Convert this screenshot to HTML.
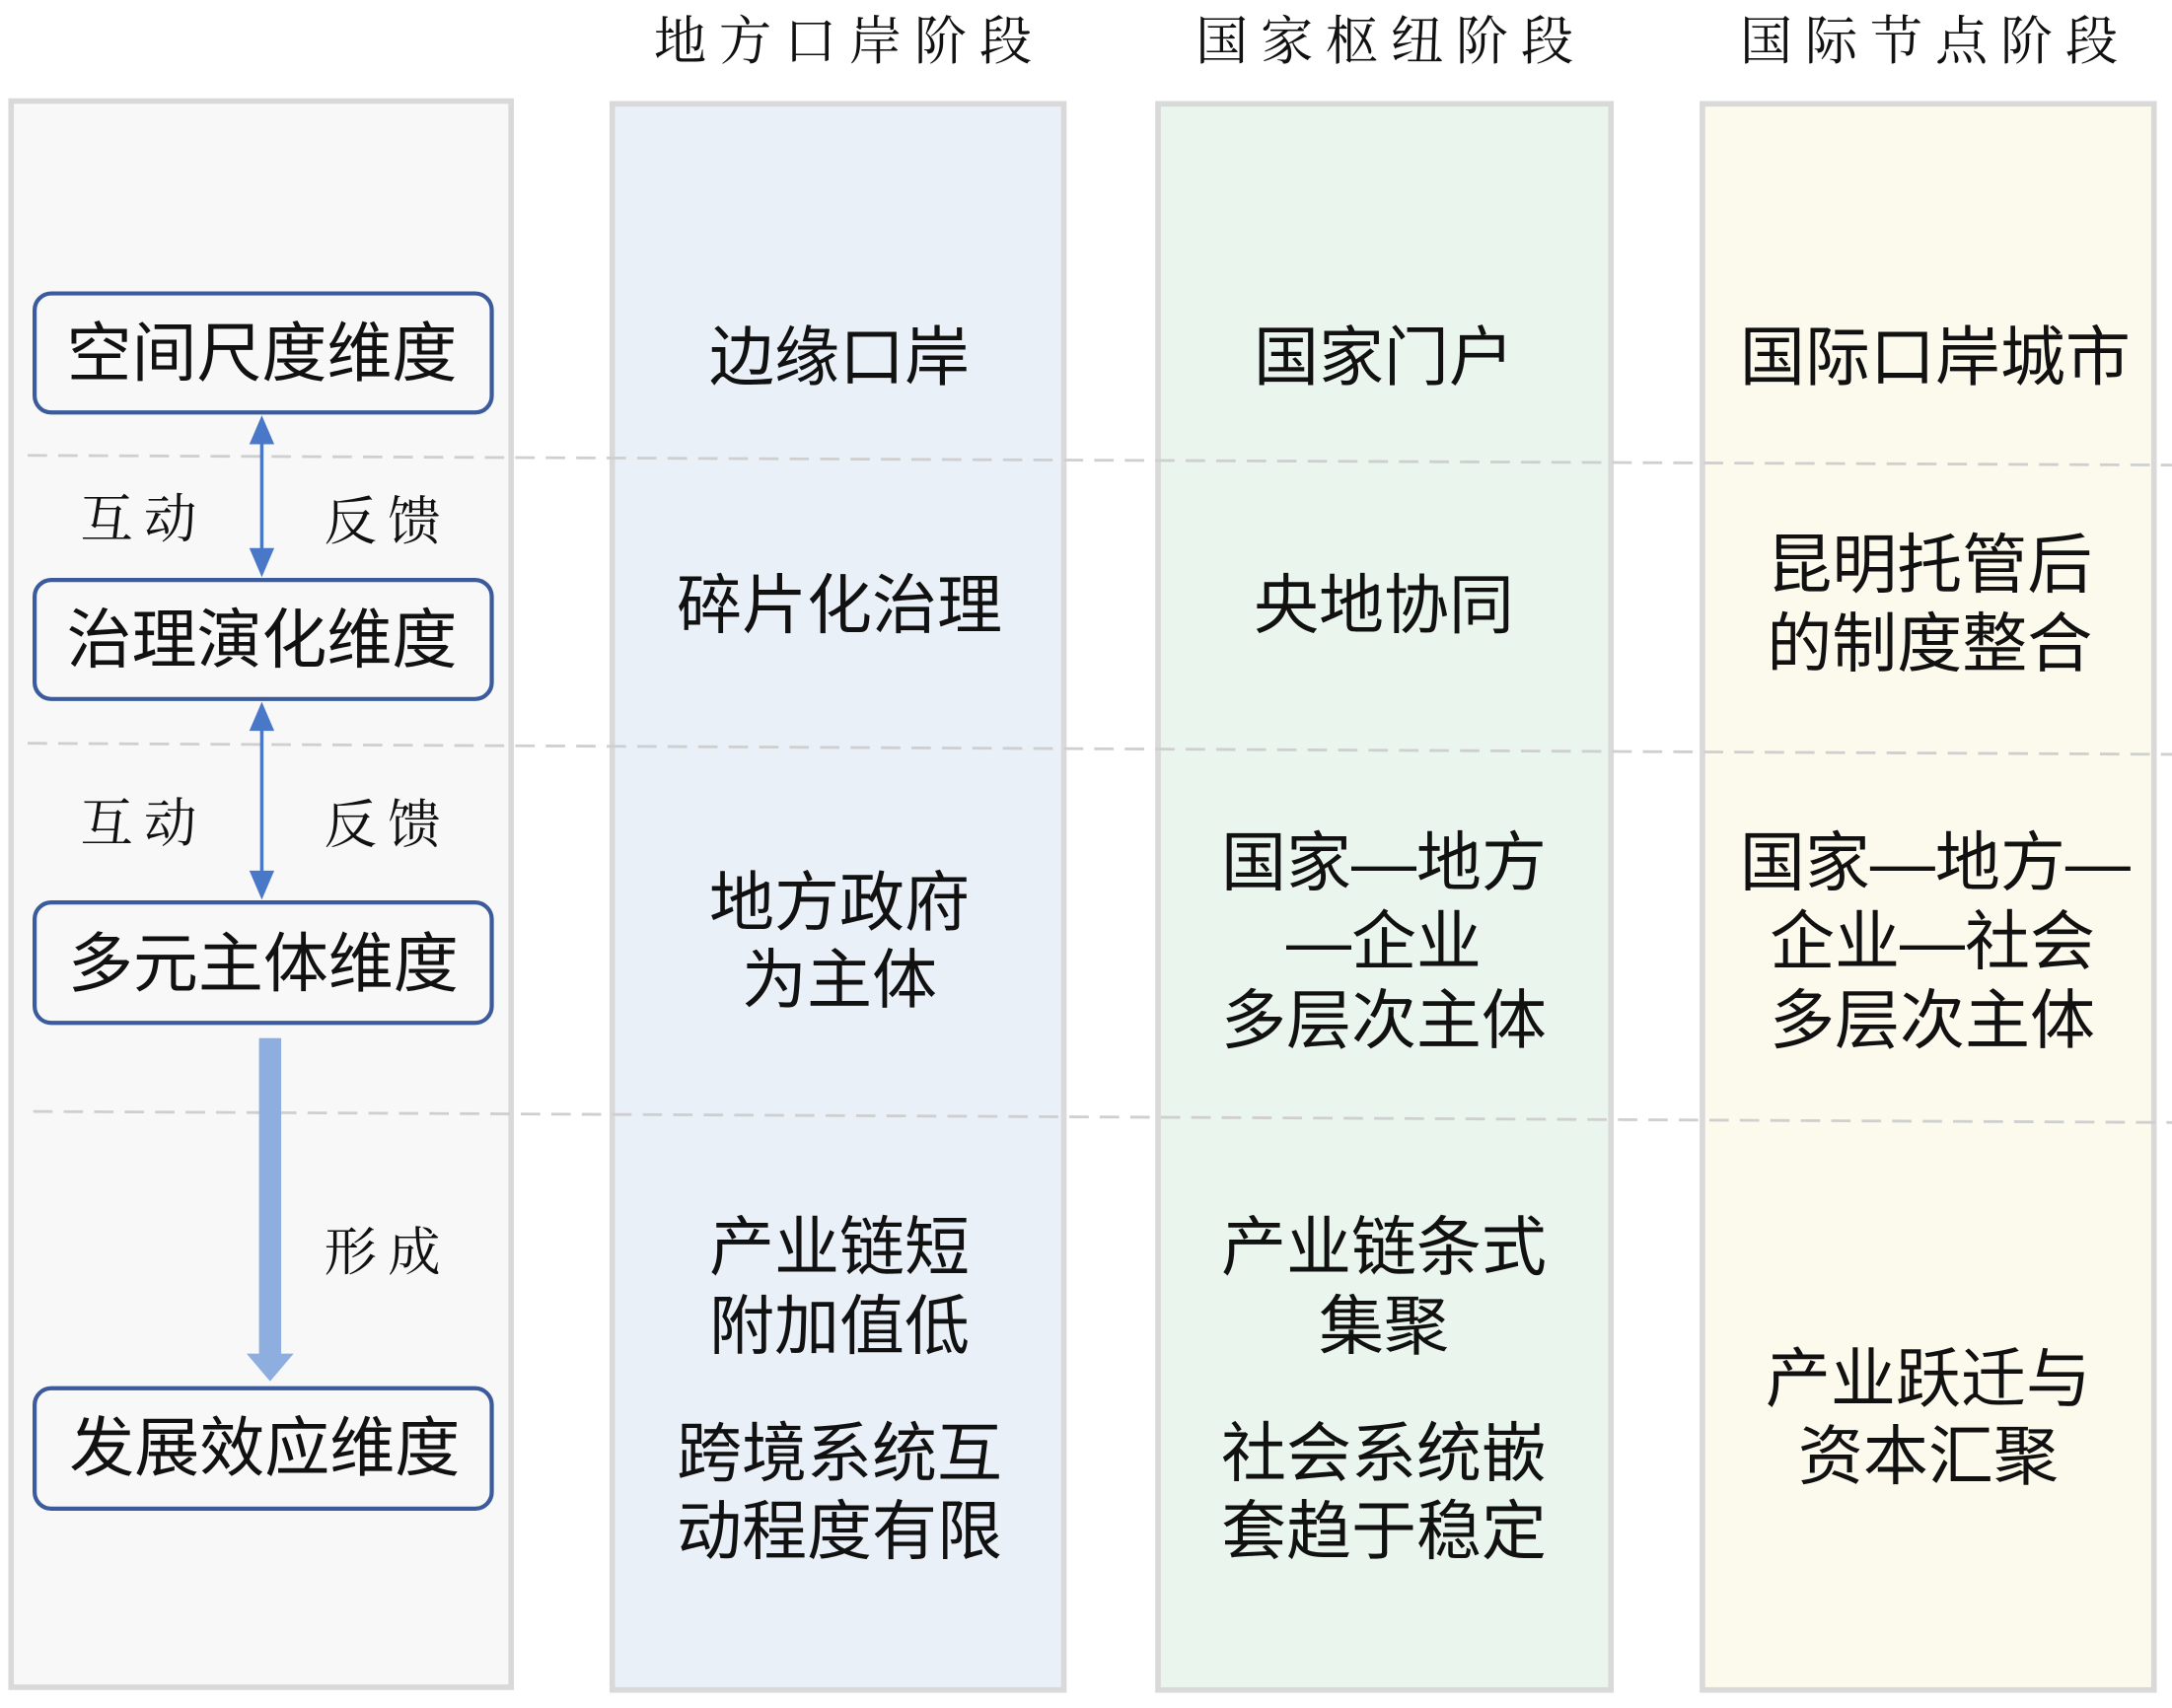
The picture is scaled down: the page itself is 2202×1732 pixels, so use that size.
<!DOCTYPE html>
<html><head><meta charset="utf-8"><style>
html,body{margin:0;padding:0;background:#fff;}
svg{display:block;}
.s{font-family:"Liberation Sans","Noto Sans CJK SC",sans-serif;font-size:47px;fill:#111;text-anchor:middle;dominant-baseline:central;}
.t{font-family:"Liberation Serif","Noto Serif CJK SC",serif;font-size:38px;fill:#111;text-anchor:middle;dominant-baseline:central;letter-spacing:9px;}
.l{font-family:"Liberation Serif","Noto Serif CJK SC",serif;font-size:38px;fill:#111;text-anchor:middle;dominant-baseline:central;letter-spacing:8px;}
</style></head><body>
<svg width="2202" height="1732" viewBox="0 0 1568 1234" preserveAspectRatio="none" xmlns="http://www.w3.org/2000/svg">
<rect x="8" y="73" width="361" height="1146" fill="#f8f8f8" stroke="#d9d9d9" stroke-width="4"/>
<rect x="442" y="75" width="326" height="1146" fill="#eaf0f8" stroke="#d9d9d9" stroke-width="4"/>
<rect x="836" y="75" width="327" height="1146" fill="#e9f5ed" stroke="#d9d9d9" stroke-width="4"/>
<rect x="1229" y="75" width="326" height="1146" fill="#fbfaec" stroke="#d9d9d9" stroke-width="4"/>
<text class="t" x="613" y="30">地方口岸阶段</text>
<text class="t" x="1004" y="30">国家枢纽阶段</text>
<text class="t" x="1397" y="30">国际节点阶段</text>
<g stroke="#cfcfcf" stroke-width="2" stroke-dasharray="14,8" fill="none">
<line x1="20" y1="329" x2="1568" y2="336"/>
<line x1="20" y1="537" x2="1568" y2="545"/>
<line x1="24" y1="803" x2="1568" y2="811"/>
</g>
<g fill="#f8f8f8" stroke="#3b5b9c" stroke-width="3">
<rect x="25" y="212" width="330" height="86" rx="12"/>
<rect x="25" y="419" width="330" height="86" rx="12"/>
<rect x="25" y="652" width="330" height="87" rx="12"/>
<rect x="25" y="1003" width="330" height="87" rx="12"/>
</g>
<text class="s" x="189" y="255">空间尺度维度</text>
<text class="s" x="189" y="462">治理演化维度</text>
<text class="s" x="190" y="696">多元主体维度</text>
<text class="s" x="191" y="1046">发展效应维度</text>
<g stroke="#4a78c8" stroke-width="2.5">
<line x1="189" y1="318" x2="189" y2="398"/>
<line x1="189" y1="526" x2="189" y2="630"/>
</g>
<g fill="#4a78c8">
<path d="M189,300 L180,321 L198,321 z"/>
<path d="M189,417 L180,396 L198,396 z"/>
<path d="M189,507 L180,528 L198,528 z"/>
<path d="M189,650 L180,629 L198,629 z"/>
</g>
<rect x="187" y="750" width="16" height="230" fill="#8eaee0"/>
<path d="M178,978 L212,978 L195,998 z" fill="#8eaee0"/>
<text class="l" x="104" y="375">互动</text>
<text class="l" x="280" y="377">反馈</text>
<text class="l" x="104" y="595">互动</text>
<text class="l" x="280" y="596">反馈</text>
<text class="l" x="280" y="905">形成</text>
<text class="s" x="606" y="258">边缘口岸</text>
<text class="s" x="606" y="437">碎片化治理</text>
<text class="s" x="606" y="652">地方政府</text>
<text class="s" x="606" y="708">为主体</text>
<text class="s" x="606" y="901">产业链短</text>
<text class="s" x="606" y="958">附加值低</text>
<text class="s" x="606" y="1050">跨境系统互</text>
<text class="s" x="606" y="1106">动程度有限</text>
<text class="s" x="999" y="258">国家门户</text>
<text class="s" x="999" y="437">央地协同</text>
<text class="s" x="999" y="623">国家—地方</text>
<text class="s" x="999" y="680">—企业</text>
<text class="s" x="999" y="737">多层次主体</text>
<text class="s" x="999" y="901">产业链条式</text>
<text class="s" x="999" y="958">集聚</text>
<text class="s" x="999" y="1050">社会系统嵌</text>
<text class="s" x="999" y="1106">套趋于稳定</text>
<text class="s" x="1397" y="258">国际口岸城市</text>
<text class="s" x="1393" y="408">昆明托管后</text>
<text class="s" x="1393" y="465">的制度整合</text>
<text class="s" x="1397" y="623">国家—地方—</text>
<text class="s" x="1395" y="680">企业—社会</text>
<text class="s" x="1395" y="737">多层次主体</text>
<text class="s" x="1392" y="996">产业跃迁与</text>
<text class="s" x="1392" y="1052">资本汇聚</text>
</svg>
</body></html>
